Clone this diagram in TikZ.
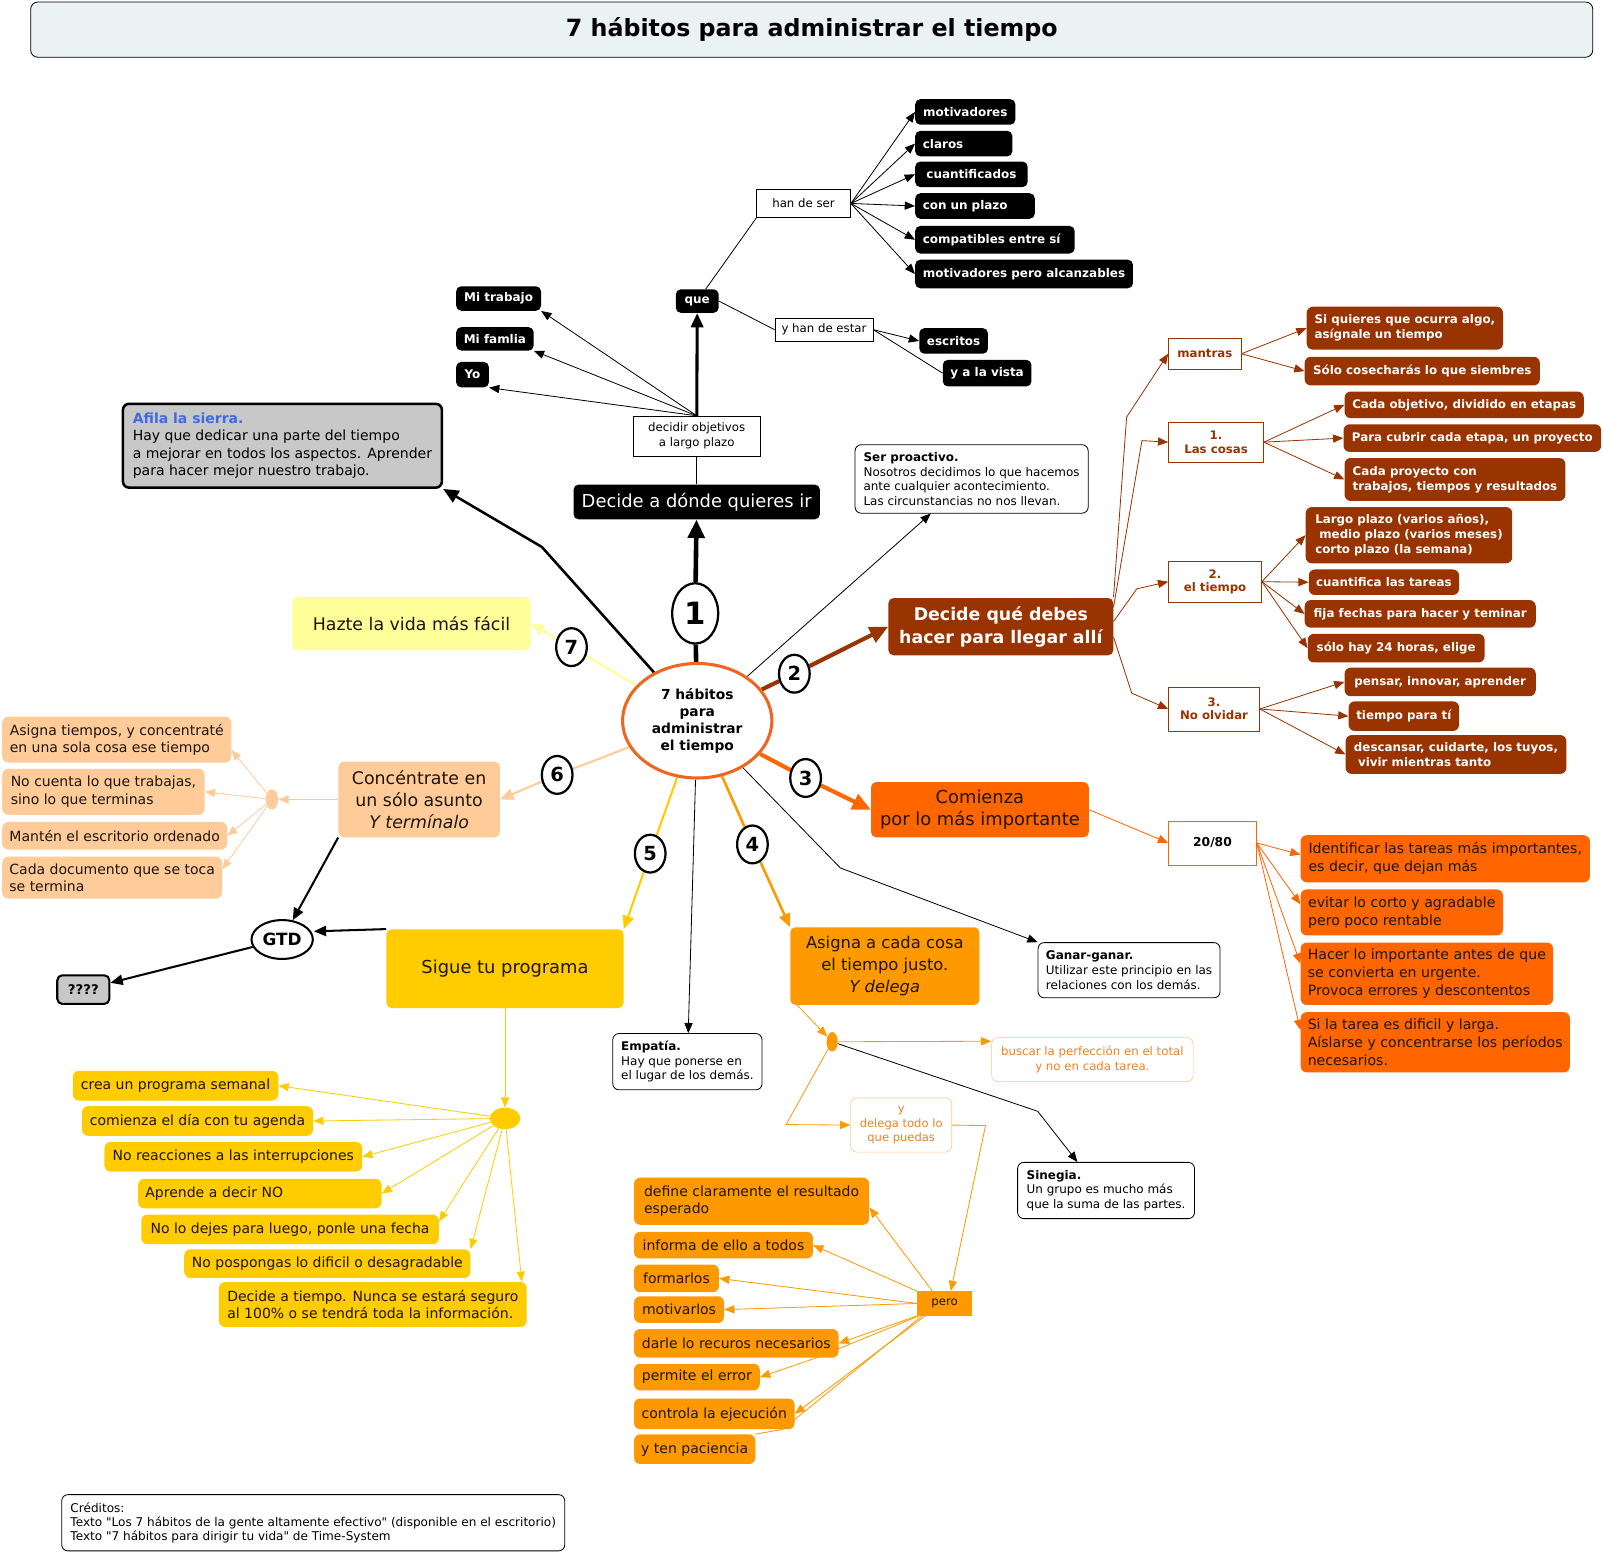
\documentclass[tikz,border=0pt]{standalone}
\usepackage{fontspec}
\setmainfont{DejaVu Sans}
\newfontfamily\rawfont{DejaVu Sans}
\usetikzlibrary{arrows.meta,shapes.geometric,backgrounds}
\definecolor{brown3}{RGB}{153,51,0}
\definecolor{orng}{RGB}{255,102,0}
\definecolor{ambr}{RGB}{255,153,0}
\definecolor{gold}{RGB}{255,204,0}
\definecolor{peach}{RGB}{255,204,153}
\definecolor{paleyel}{RGB}{255,255,153}
\definecolor{hubline}{RGB}{238,102,34}
\definecolor{titlebg}{RGB}{234,242,244}
\definecolor{sierragray}{RGB}{200,200,200}
\definecolor{sierrablue}{RGB}{65,105,225}
\definecolor{softorng}{RGB}{235,130,40}
\definecolor{softedge}{RGB}{255,200,120}
\definecolor{ink}{RGB}{30,20,10}
\tikzset{
 wh/.style 2 args={minimum width=#1pt, minimum height=#2pt},
 heading/.style={
 rectangle,
 rounded corners=7pt,
 draw,
 line width=0.8pt,
 fill=titlebg,
 font=\bfseries\fontsize{23.2}{27}\selectfont
 },
 hub/.style={
 ellipse,
 draw=hubline,
 line width=3pt,
 fill=white,
 inner sep=0pt,
 align=center,
 font=\bfseries\fontsize{13.5}{16.7}\selectfont
 },
 num/.style={
 ellipse,
 draw,
 line width=2.2pt,
 fill=white,
 inner sep=0pt,
 minimum width=30pt,
 minimum height=37pt,
 font=\bfseries\fontsize{19}{20}\selectfont
 },
 goal/.style={
 rectangle,
 rounded corners=5pt,
 align=center,
 inner sep=4pt,
 text=ink,
 font=\fontsize{17.5}{22}\selectfont
 },
 blkbox/.style={
 rectangle,
 rounded corners=5pt,
 fill=black,
 text=white,
 anchor=west,
 align=left,
 inner xsep=7.5pt,
 inner ysep=2pt,
 font=\bfseries\fontsize{11.7}{14}\selectfont
 },
 plainbox/.style={
 rectangle,
 draw,
 line width=0.6pt,
 fill=white,
 align=center,
 inner sep=2pt,
 font=\fontsize{11.5}{14.5}\selectfont
 },
 note/.style={
 rectangle,
 rounded corners=6pt,
 draw,
 line width=0.8pt,
 fill=white,
 anchor=west,
 align=left,
 inner xsep=7pt,
 font=\fontsize{11.7}{14.3}\selectfont
 },
 grp/.style={
 rectangle,
 draw=brown3,
 line width=0.7pt,
 fill=white,
 text=brown3,
 align=center,
 inner sep=2pt,
 font=\bfseries\fontsize{11.5}{13}\selectfont
 },
 leaf/.style={
 rectangle,
 rounded corners=6pt,
 anchor=west,
 align=left,
 inner xsep=7pt,
 inner ysep=2pt,
 text=ink,
 font=\fontsize{13.7}{17}\selectfont
 },
 brleaf/.style={leaf, fill=brown3, text=white, font=\bfseries\fontsize{11.6}{14.5}\selectfont},
 orleaf/.style={leaf, fill=orng, font=\fontsize{13.8}{17.5}\selectfont},
 amleaf/.style={leaf, fill=ambr},
 goleaf/.style={leaf, fill=gold},
 peleaf/.style={leaf, fill=peach},
 knot/.style={ellipse, inner sep=0pt},
 thinlink/.style={line width=0.8pt, -{Triangle[length=10pt,width=8pt]}},
 brlink/.style={thinlink, draw=brown3},
 orlink/.style={thinlink, draw=orng},
 amlink/.style={thinlink, draw=ambr},
 golink/.style={thinlink, draw=gold},
 pelink/.style={thinlink, draw=peach},
 gtdlink/.style={line width=2pt, -{Triangle[length=12pt,width=10pt]}},
 bigtip/.style={-{Triangle[length=18pt,width=16pt]}},
 midtip/.style={-{Triangle[length=13pt,width=11pt]}}
}

\begin{document}
\begin{tikzpicture}[x=1pt, y=-1pt]
 \useasboundingbox (0,0) rectangle (1568,1520);
 \node[heading, wh={1528}{54}] (ttl) at (794,29) {7 hábitos para administrar el tiempo};

 % centro y numeros
 \node[hub, wh={146}{112}] (hub) at (682,705) {7 hábitos\\para\\administrar\\el tiempo};
 \node[num, minimum width=45pt, minimum height=59pt, font=\bfseries\fontsize{30}{30}\selectfont] (n1) at (680,600) {1};
 \node[num] (n2) at (777,659) {2};
 \node[num] (n3) at (788,761) {3};
 \node[num] (n4) at (736,826) {4};
 \node[num] (n5) at (636,835) {5};
 \node[num] (n6) at (545,758) {6};
 \node[num] (n7) at (559,633) {7};

 % los 7 habitos
 \node[goal, fill=black, text=white, wh={241}{34}] (goal1) at (681.5,491) {Decide a dónde quieres ir};
 \node[goal, fill=brown3, text=white, font=\bfseries\fontsize{17}{22}\selectfont, wh={220}{56}] (goal2) at (979,613) {Decide qué debes\\hacer para llegar allí};
 \node[goal, fill=orng, wh={213}{54}] (goal3) at (958.5,792) {Comienza\\por lo más importante};
 \node[goal, fill=ambr, font=\fontsize{16}{21.5}\selectfont, wh={185}{76}] (goal4) at (865.5,945) {Asigna a cada cosa\\el tiempo justo.\\\textit{Y delega}};
 \node[goal, fill=gold, wh={232}{77}] (goal5) at (494,947.5) {Sigue tu programa};
 \node[goal, fill=peach, font=\fontsize{17}{21.5}\selectfont, wh={158}{74}] (goal6) at (410,782) {Concéntrate en\\un sólo asunto\\\textit{Y termínalo}};
 \node[goal, fill=paleyel, font=\fontsize{17}{21}\selectfont, wh={233}{52}] (goal7) at (402.5,610) {Hazte la vida más fácil};

 % notas
 \node[note, fill=sierragray, line width=2.5pt, font=\fontsize{13.7}{17}\selectfont, wh={312}{82}] (afila) at (119,436) {\textcolor{sierrablue}{\bfseries Afila la sierra.}\\Hay que dedicar una parte del tiempo\\a mejorar en todos los aspectos. Aprender\\para hacer mejor nuestro trabajo.};
 \node[note, wh={228}{67}] (proactivo) at (836,468.5) {\textbf{Ser proactivo.}\\Nosotros decidimos lo que hacemos\\ante cualquier acontecimiento.\\Las circunstancias no nos llevan.};
 \node[note, wh={178}{54}] (ganar) at (1015,949) {\textbf{Ganar-ganar.}\\Utilizar este principio en las\\relaciones con los demás.};
 \node[note, wh={146}{55}] (empatia) at (599,1038.5) {\textbf{Empatía.}\\Hay que ponerse en\\el lugar de los demás.};
 \node[note, wh={173}{55}] (sinegia) at (995,1164.5) {\textbf{Sinegia.}\\Un grupo es mucho más\\que la suma de las partes.};
 \node[note, font=\rawfont\fontsize{11.8}{13.5}\selectfont, wh={492}{55}] (creditos) at (60,1489.5) {Créditos:\\Texto "Los 7 hábitos de la gente altamente efectivo" (disponible en el escritorio)\\Texto "7 hábitos para dirigir tu vida" de Time-System};

 % rama 1
 \node[plainbox, wh={125}{39}] (decidir) at (681.5,426.5) {decidir objetivos\\a largo plazo};
 \node[blkbox, anchor=center, align=center, inner xsep=4pt, wh={42}{23}] (que) at (682,294.5) {que};
 \node[blkbox, wh={83}{24}] (mitrabajo) at (446,292) {Mi trabajo};
 \node[blkbox, wh={74}{23}] (mifamlia) at (446,331.5) {Mi famlia};
 \node[blkbox, inner xsep=6pt, wh={32}{25}] (yo) at (446,366.5) {Yo};
 \node[plainbox, wh={92}{28}] (hande) at (786,199) {han de ser};
 \node[plainbox, wh={96}{23}] (estar) at (806,322.5) {y han de estar};
 \node[blkbox, wh={67}{25}] (escritos) at (899,333.5) {escritos};
 \node[blkbox, wh={86}{26}] (vista) at (922,365) {y a la vista};
 \node[blkbox, wh={98}{25}] (motiv) at (895,109.5) {motivadores};
 \node[blkbox, text width=80pt, wh={95}{25}] (claros) at (895,140.5) {claros};
 \node[blkbox, wh={110}{25}] (cuanti) at (895,170.5) {cuantificados};
 \node[blkbox, text width=102pt, wh={117}{25}] (plazo) at (895,201.5) {con un plazo};
 \node[blkbox, text width=141pt, wh={156}{27}] (compat) at (895,234.5) {compatibles entre sí};
 \node[blkbox, wh={213}{28}] (alcanz) at (895,268) {motivadores pero alcanzables};

 % rama 2
 \node[grp, wh={71}{30}] (mantras) at (1178.5,346) {mantras};
 \node[grp, wh={93}{39}] (cosas) at (1189.5,432.5) {1.\\Las cosas};
 \node[grp, wh={91}{40}] (tiempo) at (1188.5,569) {2.\\el tiempo};
 \node[grp, wh={89}{43}] (olvidar) at (1187.5,693.5) {3.\\No olvidar};
 \node[brleaf, wh={192}{42}] (bl1) at (1278,321) {Si quieres que ocurra algo,\\asígnale un tiempo};
 \node[brleaf, wh={230}{28}] (bl2) at (1276,363) {Sólo cosecharás lo que siembres};
 \node[brleaf, wh={234}{26}] (bl3) at (1315,396) {Cada objetivo, dividido en etapas};
 \node[brleaf, wh={252}{27}] (bl4) at (1314,428.5) {Para cubrir cada etapa, un proyecto};
 \node[brleaf, wh={216}{42}] (bl5) at (1315,469) {Cada proyecto con\\trabajos, tiempos y resultados};
 \node[brleaf, wh={202}{55}] (bl6) at (1277,523.5) {Largo plazo (varios años),\\\hspace*{4pt}medio plazo (varios meses)\\corto plazo (la semana)};
 \node[brleaf, wh={147}{25}] (bl7) at (1280,569.5) {cuantifica las tareas};
 \node[brleaf, wh={226}{27}] (bl8) at (1276,600.5) {fija fechas para hacer y teminar};
 \node[brleaf, wh={173}{28}] (bl9) at (1279,634) {sólo hay 24 horas, elige};
 \node[brleaf, wh={187}{28}] (bl10) at (1315,667) {pensar, innovar, aprender};
 \node[brleaf, wh={108}{29}] (bl11) at (1319,700.5) {tiempo para tí};
 \node[brleaf, wh={216}{38}] (bl12) at (1316,738) {descansar, cuidarte, los tuyos,\\\hspace*{4pt}vivir mientras tanto};

 % rama 3
 \node[grp, draw=orng, text=black, font=\bfseries\fontsize{12}{14}\selectfont, wh={86}{43}] (veinte) at (1186,824.5) {20/80};
 \node[orleaf, wh={283}{46}] (or1) at (1272,840) {Identificar las tareas más importantes,\\es decir, que dejan más};
 \node[orleaf, wh={198}{45}] (or2) at (1272,892.5) {evitar lo corto y agradable\\pero poco rentable};
 \node[orleaf, wh={246}{61}] (or3) at (1272,952.5) {Hacer lo importante antes de que\\se convierta en urgente.\\Provoca errores y descontentos};
 \node[orleaf, wh={263}{59}] (or4) at (1272,1019.5) {Si la tarea es dificil y larga.\\Aíslarse y concentrarse los períodos\\necesarios.};

 % rama 4
 \node[knot, fill=ambr, wh={11}{19}] (dot4) at (814,1019) {};
 \node[plainbox, draw=softedge, text=softorng, rounded corners=6pt, wh={197}{43}] (buscar) at (1068.5,1036.5) {buscar la perfección en el total\\y no en cada tarea.};
 \node[plainbox, draw=softedge, text=softorng, rounded corners=6pt, font=\fontsize{11.3}{14}\selectfont, wh={99}{53}] (delega) at (881.5,1100.5) {y\\delega todo lo\\que puedas};
 \node[rectangle, fill=ambr, text=ink, font=\fontsize{11.5}{13}\selectfont, wh={54}{24}] (pero) at (924,1275) {pero};
 \node[amleaf, wh={230}{46}] (define) at (620,1175) {define claramente el resultado\\esperado};
 \node[amleaf, wh={175}{26}] (informa) at (620,1218) {informa de ello a todos};
 \node[amleaf, wh={83}{27}] (formar) at (620,1250.5) {formarlos};
 \node[amleaf, wh={88}{26}] (motivar) at (620,1281) {motivarlos};
 \node[amleaf, wh={200}{28}] (darle) at (620,1314) {darle lo recuros necesarios};
 \node[amleaf, wh={123}{26}] (permite) at (620,1347) {permite el error};
 \node[amleaf, wh={157}{30}] (controla) at (620,1383) {controla la ejecución};
 \node[amleaf, wh={118}{29}] (paciencia) at (620,1417.5) {y ten paciencia};

 % rama 5
 \node[knot, fill=gold, wh={30}{21}] (dot5) at (494,1094) {};
 \node[goleaf, wh={201}{29}] (crea) at (71,1062) {crea un programa semanal};
 \node[goleaf, wh={226}{29}] (agenda) at (80,1096.5) {comienza el día con tu agenda};
 \node[goleaf, wh={252}{29}] (interrup) at (102,1131.5) {No reacciones a las interrupciones};
 \node[goleaf, text width=224pt, wh={238}{29}] (decirno) at (135,1167.5) {Aprende a decir NO};
 \node[goleaf, wh={291}{29}] (fecha) at (138,1202.5) {No lo dejes para luego, ponle una fecha};
 \node[goleaf, wh={280}{28}] (pospon) at (180,1236) {No pospongas lo dificil o desagradable};
 \node[goleaf, wh={301}{44}] (atiempo) at (214,1276) {Decide a tiempo. Nunca se estará seguro\\al 100\% o se tendrá toda la información.};

 % rama 6
 \node[knot, fill=peach, wh={12}{20}] (dot6) at (266,782) {};
 \node[peleaf, wh={224}{45}] (pe1) at (2,723.5) {Asigna tiempos, y concentraté\\en una sola cosa ese tiempo};
 \node[peleaf, wh={198}{45}] (pe2) at (2,774.5) {No cuenta lo que trabajas,\\sino lo que terminas};
 \node[peleaf, wh={220}{27}] (pe3) at (2,817.5) {Mantén el escritorio ordenado};
 \node[peleaf, wh={215}{41}] (pe4) at (2,858.5) {Cada documento que se toca\\se termina};
 \node[ellipse, draw, line width=2pt, fill=white, inner sep=0pt, font=\bfseries\fontsize{16.5}{18}\selectfont, wh={60}{38}] (gtd) at (276,919) {GTD};
 \node[rectangle, rounded corners=5pt, draw, line width=2pt, fill=sierragray, font=\bfseries\fontsize{13}{15}\selectfont, wh={51}{28}] (qqq) at (81.5,968) {????};

 \begin{scope}[on background layer]
 \fill[white] (0,0) rectangle (1568,1520);
 % rama 1
 \draw[line width=4.5pt] (hub) -- (n1);
 \draw[line width=4.5pt, bigtip] (n1) -- (goal1);
 \draw[line width=0.8pt] (goal1) -- (decidir);
 \draw[line width=3pt, -{Triangle[length=14pt,width=12pt]}] (decidir) -- (que);
 \draw[thinlink] (decidir.north) -- (mitrabajo.south east);
 \draw[thinlink] (decidir.north) -- (mifamlia.south east);
 \draw[thinlink] (decidir.north) -- (yo.south east);
 \draw[line width=0.8pt] (que) -- (hande.south west);
 \foreach \k in {motiv,claros,cuanti,plazo,compat,alcanz}
 \draw[thinlink] (hande.east) -- (\k.west);
 \draw[line width=0.8pt] (que.east) -- (estar.west);
 \draw[thinlink] (estar.east) -- (escritos.west);
 \draw[line width=0.8pt] (estar.east) -- (vista.west);
 % notas negras
 \draw[line width=2.5pt, -{Triangle[length=15pt,width=13pt]}] (hub) -- (530,535) -- (afila.south east);
 \draw[thinlink] (hub) -- ([xshift=-40pt]proactivo.south);
 \draw[thinlink] (hub) -- (822,849) -- (ganar.north west);
 \draw[thinlink] (hub) -- (empatia);
 % rama 2
 \draw[brown3, line width=4pt] (hub) -- (n2);
 \draw[brown3, line width=4pt, bigtip] (n2) -- (goal2.west);
 \draw[brlink] ([yshift=29pt]goal2.east) -- (1102,408) -- (mantras.west);
 \draw[brlink] ([yshift=19pt]goal2.east) -- (1117,431) -- (cosas.west);
 \draw[brlink] ([yshift=5pt]goal2.east) -- (1112,576) -- (tiempo.west);
 \draw[brlink] ([yshift=-10pt]goal2.east) -- (1107,678) -- (olvidar.west);
 \foreach \k in {bl1,bl2} \draw[brlink] (mantras.east) -- (\k.west);
 \foreach \k in {bl3,bl4,bl5} \draw[brlink] (cosas.east) -- (\k.west);
 \foreach \k in {bl6,bl7,bl8,bl9} \draw[brlink] (tiempo.east) -- (\k.west);
 \foreach \k in {bl10,bl11,bl12} \draw[brlink] (olvidar.east) -- (\k.west);
 % rama 3
 \draw[orng, line width=4pt] (hub) -- (n3);
 \draw[orng, line width=4pt, bigtip] (n3) -- (goal3.west);
 \draw[orlink] (goal3.east) -- (veinte.west);
 \draw[orlink] (veinte.east) -- ([yshift=4pt]or1.west);
 \draw[orlink] (veinte.east) -- ([yshift=8pt]or2.west);
 \draw[orlink] (veinte.east) -- ([yshift=10pt]or3.west);
 \draw[orlink] (veinte.east) -- ([yshift=12pt]or4.west);
 % rama 4
 \draw[ambr, line width=2.5pt] (hub) -- (n4);
 \draw[ambr, line width=2.5pt, midtip] (n4) -- (goal4.north west);
 \draw[amlink] ([xshift=7pt]goal4.south west) -- (dot4);
 \draw[amlink] (dot4) -- ([yshift=18pt]buscar.west);
 \draw[thinlink] (dot4) -- (1015,1087) -- ([xshift=-28pt]sinegia.north);
 \draw[amlink] (dot4) -- (769,1100) -- (delega.west);
 \draw[amlink] (delega.east) -- (964,1101) -- ([xshift=6pt]pero.north);
 \draw[amlink] ([xshift=-12pt]pero.north) -- ([yshift=-6pt]define.east);
 \draw[amlink] (pero.north west) -- (informa.east);
 \draw[amlink] (pero.west) -- (formar.east);
 \draw[amlink] (pero.west) -- (motivar.east);
 \draw[amlink] (pero.south west) -- (darle.east);
 \draw[amlink] ([xshift=2pt]pero.south west) -- ([xshift=-22pt]darle.south east) -- (permite.east);
 \draw[amlink] ([xshift=8pt]pero.south west) -- (controla.east);
 \draw[ambr, line width=0.8pt] ([xshift=5pt]pero.south west) -- ([xshift=-12pt]controla.south east) -- (paciencia.north east);
 % rama 5
 \draw[gold, line width=2pt] (hub) -- (n5);
 \draw[gold, line width=2pt, midtip] (n5) -- (goal5.north east);
 \draw[golink] (goal5) -- (dot5);
 \foreach \k in {crea,agenda,interrup,decirno}
 \draw[golink] (dot5) -- (\k.east);
 \draw[golink] (dot5) -- ([yshift=-7pt]fecha.north east);
 \draw[golink] (dot5) -- (pospon.north east);
 \draw[golink] (dot5) -- ([xshift=-5pt]atiempo.north east);
 % rama 6
 \draw[peach, line width=2pt] (hub) -- (n6);
 \draw[peach, line width=2pt, midtip] (n6) -- (goal6.east);
 \draw[pelink] (goal6.west) -- (dot6);
 \draw[pelink] (dot6) -- ([yshift=-10pt]pe1.east);
 \draw[pelink] (dot6) -- (pe2.east);
 \draw[pelink] (dot6) -- (pe3.east);
 \draw[pelink] (dot6) -- ([yshift=8pt]pe4.east);
 \draw[gtdlink] (goal6.south west) -- (gtd);
 \draw[gtdlink] (goal5.north west) -- ([yshift=8pt]gtd.east);
 \draw[gtdlink] (gtd) -- (qqq);
 % rama 7
 \draw[paleyel, line width=2pt] (hub) -- (n7);
 \draw[paleyel, line width=2pt, midtip] (n7) -- (goal7.east);
 \end{scope}
\end{tikzpicture}
\end{document}
